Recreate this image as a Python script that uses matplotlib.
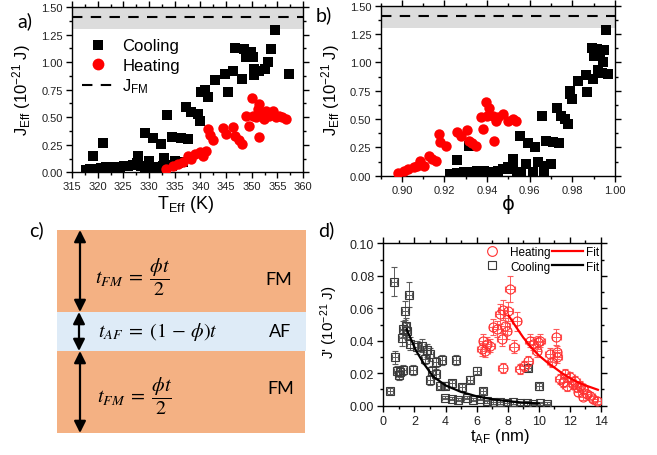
import numpy as np
import matplotlib
matplotlib.use('Agg')
import matplotlib.pyplot as plt
from matplotlib.patches import Rectangle, FancyArrowPatch
from matplotlib.lines import Line2D
from matplotlib.ticker import MultipleLocator, FormatStrFormatter

plt.rcParams['font.family'] = ['Liberation Sans', 'DejaVu Sans']
plt.rcParams['mathtext.fontset'] = 'custom'
plt.rcParams['mathtext.rm'] = 'Liberation Sans'
plt.rcParams['mathtext.it'] = 'Liberation Sans:italic'
plt.rcParams['mathtext.bf'] = 'Liberation Sans:bold'

# ---- panel a: J_Eff vs T_Eff ----
cool_T = [317.8, 318.6, 319.6, 320.6, 321.6, 322.6, 323.4, 324.4, 325.2, 326.0, 326.8,
          327.6, 328.4, 329.2, 331.2, 332.0, 332.8, 333.6, 334.4, 335.6, 336.6,
          319.0, 321.0, 327.9, 329.2, 330.8, 332.4, 330.0, 332.9, 333.5, 334.5, 336.3,
          337.5, 335.0,
          337.3, 338.2, 339.5, 339.9, 340.2, 341.0, 341.5, 342.8, 344.9, 345.4, 346.3,
          346.8, 348.1, 348.6, 349.2, 349.9, 348.9, 350.2, 350.5, 350.5, 351.5, 352.5,
          353.1, 353.8, 354.6, 357.2]
cool_J = [0.02, 0.03, 0.03, 0.04, 0.05, 0.05, 0.05, 0.05, 0.06, 0.06, 0.07,
          0.08, 0.06, 0.05, 0.03, 0.05, 0.06, 0.07, 0.06, 0.08, 0.09,
          0.15, 0.27, 0.15, 0.36, 0.31, 0.26, 0.10, 0.13, 0.52, 0.32, 0.31,
          0.30, 0.10,
          0.59, 0.545, 0.53, 0.47, 0.73, 0.75, 0.68, 0.84, 0.89, 0.73, 0.92,
          1.13, 0.85, 1.12, 1.075, 1.09, 1.045, 1.045, 0.94, 0.885, 0.92, 0.94,
          1.00, 1.12, 1.29, 0.89]
heat_T = [333.4, 334.7, 335.6, 336.6, 337.6, 338.2, 338.9, 339.9, 340.5, 341.2,
          341.5, 341.8, 342.4, 344.4, 345.0, 346.3, 346.7, 347.6, 348.1, 349.4,
          350.1, 348.9, 350.2, 351.2, 351.5, 351.8, 352.8, 353.4, 354.1, 354.7,
          355.4, 356.0, 356.7, 351.4, 352.4, 350.8]
heat_J = [0.03, 0.06, 0.075, 0.09, 0.15, 0.12, 0.166, 0.18, 0.15, 0.196,
          0.39, 0.34, 0.29, 0.40, 0.35, 0.41, 0.33, 0.29, 0.26, 0.42,
          0.67, 0.515, 0.515, 0.575, 0.62, 0.515, 0.56, 0.515, 0.56, 0.50,
          0.515, 0.50, 0.485, 0.32, 0.485, 0.50]

# ---- panel b: J_Eff vs phi ----
cool_phi = [0.9956, 0.9890, 0.9914, 0.9950, 0.9903, 0.9930, 0.9945, 0.9922, 0.9938,
            0.9898, 0.9969, 0.9862, 0.9867, 0.9827, 0.9788, 0.9799, 0.9790,
            0.9657, 0.9729, 0.9748, 0.9764, 0.9780, 0.9556, 0.9591, 0.9625, 0.9677,
            0.9709, 0.9736, 0.9260, 0.9315, 0.9520, 0.9583, 0.9638, 0.9669, 0.9701,
            0.9615, 0.9669,
            0.9228, 0.9260, 0.9291, 0.9323, 0.9355, 0.9386, 0.9417, 0.9449, 0.9473,
            0.9496, 0.9520, 0.9540, 0.9559]
cool_J_phi = [1.29, 1.13, 1.12, 1.11, 1.06, 1.09, 1.00, 0.935, 0.91,
              0.853, 0.90, 0.89, 0.74, 0.84, 0.72, 0.68, 0.75,
              0.524, 0.595, 0.53, 0.50, 0.456, 0.353, 0.289, 0.25, 0.31,
              0.295, 0.29, 0.139, 0.265, 0.147, 0.10, 0.118, 0.088, 0.103,
              0.03, 0.03,
              0.015, 0.02, 0.03, 0.03, 0.044, 0.044, 0.03, 0.044, 0.059,
              0.074, 0.059, 0.03, 0.015]
heat_phi = [0.8984, 0.9008, 0.9031, 0.9055, 0.9071, 0.9087, 0.9102, 0.9126, 0.9142,
            0.9158, 0.9181, 0.9173, 0.9205, 0.9260, 0.9276, 0.9304, 0.9315, 0.9347,
            0.9330, 0.9370, 0.9394, 0.9410, 0.9426, 0.9441, 0.9473, 0.9496, 0.9520,
            0.9536, 0.9381, 0.9433, 0.9449, 0.9400]
heat_J_phi = [0.024, 0.044, 0.059, 0.074, 0.088, 0.132, 0.088, 0.177, 0.147,
              0.132, 0.295, 0.368, 0.265, 0.383, 0.353, 0.406, 0.309, 0.265,
              0.29, 0.515, 0.653, 0.60, 0.53, 0.485, 0.545, 0.485, 0.50,
              0.485, 0.412, 0.309, 0.515, 0.53]

J_FM = 1.41
J_FM_band = (1.30, 1.50)

# ---- panel d: J' vs t_AF ----
cool_t = [0.69, 0.43, 1.67, 1.40, 1.29, 1.54, 1.18, 1.46, 0.75, 0.86, 1.07, 1.29, 0.99,
          1.93, 1.72, 2.15, 2.47, 2.79, 3.00, 2.68, 3.11, 3.00, 3.39, 3.39, 3.75, 3.64,
          3.97, 4.40, 4.67, 5.04, 5.57, 6.00, 6.43, 9.32, 10.01,
          3.97, 4.39, 4.82, 5.36, 5.79, 6.22, 6.65, 7.07, 7.50, 7.93, 8.36, 8.79,
          9.22, 9.65, 10.07, 10.50]
cool_Jp = [0.0764, 0.0092, 0.0684, 0.0585, 0.0470, 0.0458, 0.0417, 0.0493, 0.0298,
           0.0216, 0.0206, 0.0220, 0.0189, 0.0222, 0.0380, 0.0360, 0.0370, 0.0340,
           0.0318, 0.0288, 0.0216, 0.0160, 0.0267, 0.0195, 0.0283, 0.0123, 0.0123,
           0.0138, 0.0283, 0.0113, 0.0160, 0.0216, 0.0092, 0.0232, 0.0119,
           0.0049, 0.0043, 0.0037, 0.0049, 0.0037, 0.0043, 0.0027, 0.0023, 0.0023,
           0.0016, 0.0021, 0.0014, 0.0016, 0.0012, 0.0014, 0.0012]
cool_Jp_err = [0.009, 0.002, 0.0077, 0.006, 0.005, 0.005, 0.005, 0.005, 0.004,
               0.003, 0.003, 0.003, 0.003, 0.003, 0.004, 0.004, 0.004, 0.004,
               0.004, 0.003, 0.003, 0.003, 0.003, 0.003, 0.003, 0.002, 0.002,
               0.002, 0.003, 0.002, 0.002, 0.002, 0.002, 0.002, 0.002,
               0.001, 0.001, 0.001, 0.001, 0.001, 0.001, 0.001, 0.001, 0.001,
               0.001, 0.001, 0.001, 0.001, 0.001, 0.001, 0.001]
heat_t = [8.15, 7.68, 8.04, 7.50, 8.58, 7.07, 7.29, 7.83, 7.94, 7.61, 6.43, 6.65, 6.33,
          6.86, 6.54, 8.41, 7.68, 8.79, 9.05, 9.32, 9.43, 9.65, 9.97, 10.08, 9.86,
          10.72, 10.83, 11.15, 11.19, 11.13, 11.68, 11.36, 11.58, 12.00, 12.33, 11.79,
          12.22, 12.65, 12.86, 12.54, 13.08, 13.29, 13.50, 13.72, 12.86, 12.43]
heat_Jp = [0.0719, 0.0589, 0.0581, 0.0565, 0.0520, 0.0483, 0.0472, 0.0493, 0.0462,
           0.0410, 0.0400, 0.0380, 0.0349, 0.0370, 0.0339, 0.0363, 0.0232, 0.0226,
           0.0246, 0.0277, 0.0400, 0.0380, 0.0390, 0.0400, 0.0339, 0.0318, 0.0267,
           0.0329, 0.0302, 0.0421, 0.0195, 0.0164, 0.0144, 0.0175, 0.0154, 0.0123,
           0.0134, 0.0123, 0.0103, 0.0082, 0.0072, 0.0062, 0.0041, 0.0031, 0.0055,
           0.0113]
heat_Jp_err = [0.008, 0.006, 0.006, 0.006, 0.006, 0.005, 0.005, 0.005, 0.005,
               0.004, 0.004, 0.004, 0.004, 0.004, 0.004, 0.004, 0.003, 0.003,
               0.003, 0.003, 0.004, 0.004, 0.004, 0.004, 0.004, 0.004, 0.003,
               0.004, 0.004, 0.005, 0.003, 0.003, 0.003, 0.003, 0.003, 0.003,
               0.003, 0.003, 0.003, 0.002, 0.002, 0.002, 0.002, 0.002, 0.002,
               0.003]
cool_fit_t = [1.5, 2.1, 2.6, 3.2, 4.0, 5.0, 6.0, 7.0, 8.0, 9.0, 10.0]
cool_fit_Jp = [0.047, 0.034, 0.026, 0.018, 0.0125, 0.0085, 0.0058, 0.0040, 0.0028,
               0.0019, 0.0014]
heat_fit_t = [8.05, 8.5, 9.0, 9.5, 10.0, 10.5, 11.0, 11.5, 12.0, 12.5, 13.0, 13.8]
heat_fit_Jp = [0.0556, 0.049, 0.042, 0.036, 0.031, 0.027, 0.0235, 0.020, 0.017,
               0.0145, 0.0125, 0.0098]

W, H = 657, 456
fig = plt.figure(figsize=(W / 100, H / 100), dpi=100)


def px_axes(left, top, right, bottom, **kw):
    return fig.add_axes([left / W, 1 - bottom / H, (right - left) / W, (bottom - top) / H], **kw)


def px_text(x, y, s, **kw):
    return fig.text(x / W, 1 - y / H, s, **kw)


def origin_style(ax, xmaj, xmin, ymaj, ymin, fs, xfmt, yfmt):
    ax.xaxis.set_major_locator(MultipleLocator(xmaj))
    ax.xaxis.set_minor_locator(MultipleLocator(xmin))
    ax.yaxis.set_major_locator(MultipleLocator(ymaj))
    ax.yaxis.set_minor_locator(MultipleLocator(ymin))
    ax.xaxis.set_major_formatter(FormatStrFormatter(xfmt))
    ax.yaxis.set_major_formatter(FormatStrFormatter(yfmt))
    ax.tick_params(which='both', direction='out', top=True, right=True, width=1,
                   labelsize=fs, labelcolor='#222222', pad=2)
    ax.tick_params(which='major', length=4.5)
    ax.tick_params(which='minor', length=2.5)
    for s in ax.spines.values():
        s.set_linewidth(1)


# ---- panel c: layer sketch drawn in pixel space ----
ax_c = fig.add_axes([0, 0, 1, 1], zorder=-1)
ax_c.set_xlim(0, W)
ax_c.set_ylim(H, 0)
ax_c.axis('off')
orange, blue = '#F4B183', '#DEEBF7'
ax_c.add_patch(Rectangle((57, 231), 249, 82, color=orange, lw=0))
ax_c.add_patch(Rectangle((57, 313), 249, 39, color=blue, lw=0))
ax_c.add_patch(Rectangle((57, 352), 248, 82, color=orange, lw=0))
for x0, y0, y1 in [(80, 231, 313), (79, 313, 352), (80, 352, 434)]:
    ax_c.add_patch(FancyArrowPatch((x0, y0), (x0, y1),
                                   arrowstyle='<|-|>,head_length=0.7,head_width=0.35',
                                   mutation_scale=10, lw=1.6, color='k',
                                   shrinkA=0, shrinkB=0))
ax_c.text(95, 277, r'$t_{FM}\;=\;\dfrac{\phi t}{2}$', fontsize=14.5, math_fontfamily='stix',
          ha='left', va='center')
ax_c.text(98, 332, r'$t_{AF}\;=\;(1\,-\,\phi)t$', fontsize=14.5, math_fontfamily='stix',
          ha='left', va='center')
ax_c.text(97, 396, r'$t_{FM}\;=\;\dfrac{\phi t}{2}$', fontsize=14.5, math_fontfamily='stix',
          ha='left', va='center')
for x, y, s in [(279, 280, 'FM'), (280, 332, 'AF'), (281, 389, 'FM')]:
    ax_c.text(x, y, s, fontsize=13, family='Lato', ha='center', va='center')

# ---- panel a ----
ax_a = px_axes(72, 8, 303, 173.3)
ax_a.axhspan(*J_FM_band, color='#dcdcdc', lw=0, zorder=0)
ax_a.axhline(J_FM, color='k', lw=1.5, dashes=(5, 4), zorder=1)
ax_a.plot(cool_T, cool_J, 's', color='k', ms=6.5, mew=0, zorder=3)
ax_a.plot(heat_T, heat_J, 'o', color='#ff0000', ms=7.5, mew=0, zorder=3)
ax_a.set_xlim(315, 360)
ax_a.set_ylim(0, 1.5)
origin_style(ax_a, 5, 2.5, 0.25, 0.125, 8, '%d', '%.2f')
handles = [Line2D([], [], ls='none', marker='s', color='k', ms=7.5, mew=0),
           Line2D([], [], ls='none', marker='o', color='#ff0000', ms=8.5, mew=0),
           Line2D([], [], color='k', lw=1.5, dashes=(5, 4))]
ax_a.legend(handles, ['Cooling', 'Heating', r'J$_{\rm FM}$'], loc='upper left',
            bbox_to_anchor=(0.02, 0.84), frameon=False, fontsize=12,
            handlelength=2.0, handletextpad=0.45, labelspacing=0.25,
            borderpad=0.3, borderaxespad=0)

# ---- panel b ----
ax_b = px_axes(380.5, 6.7, 615, 176.7)
ax_b.axhspan(*J_FM_band, color='#dcdcdc', lw=0, zorder=0)
ax_b.axhline(J_FM, color='k', lw=1.5, dashes=(5, 4), zorder=1)
ax_b.plot(cool_phi, cool_J_phi, 's', color='k', ms=6.5, mew=0, zorder=3)
ax_b.plot(heat_phi, heat_J_phi, 'o', color='#ff0000', ms=7.5, mew=0, zorder=3)
ax_b.set_xlim(0.89, 1.0)
ax_b.set_ylim(0, 1.5)
origin_style(ax_b, 0.02, 0.01, 0.25, 0.125, 8, '%.2f', '%.2f')

# ---- panel d ----
ax_d = px_axes(383.3, 244.3, 601, 406.7)
ax_d.errorbar(cool_t, cool_Jp, yerr=cool_Jp_err, xerr=0.2, fmt='s', mfc='none',
              mec='#3a3a3a', ecolor='#5a5a5a', ms=5.5, mew=0.8, elinewidth=0.7,
              capsize=2.5, capthick=0.7, zorder=3)
ax_d.errorbar(heat_t, heat_Jp, yerr=heat_Jp_err, xerr=0.3, fmt='o', mfc='none',
              mec='#ff3030', ecolor='#ff5a5a', ms=6.5, mew=0.8, elinewidth=0.7,
              capsize=2.5, capthick=0.7, zorder=3)
ax_d.plot(cool_fit_t, cool_fit_Jp, color='k', lw=1.6, zorder=4)
ax_d.plot(heat_fit_t, heat_fit_Jp, color='#ff0000', lw=1.6, zorder=4)
ax_d.set_xlim(0, 14)
ax_d.set_ylim(0, 0.1)
origin_style(ax_d, 2, 1, 0.02, 0.01, 9, '%d', '%.2f')
hd = [Line2D([], [], ls='none', marker='o', mfc='none', mec='#ff3030', ms=7, mew=0.8),
      Line2D([], [], ls='none', marker='s', mfc='none', mec='#3a3a3a', ms=6, mew=0.8),
      Line2D([], [], color='#ff0000', lw=1.6),
      Line2D([], [], color='k', lw=1.6)]
ax_d.legend(hd, ['Heating', 'Cooling', 'Fit', 'Fit'], ncol=2, loc='upper right',
            bbox_to_anchor=(1.0, 1.0), frameon=False, fontsize=8.5,
            handlelength=2.6, handletextpad=0.2, columnspacing=0.15,
            labelspacing=0.25, borderpad=0.1, borderaxespad=0.1)

# ---- axis labels and panel letters ----
px_text(22, 90, r'J$_{\rm Eff}$ (10$^{\rm {-}21}$ J)', fontsize=12, rotation=90,
        ha='center', va='center')
px_text(185, 205, r'T$_{\rm Eff}$ (K)', fontsize=13, ha='center', va='center')
px_text(331, 90, r'J$_{\rm Eff}$ (10$^{\rm {-}21}$ J)', fontsize=12, rotation=90,
        ha='center', va='center')
px_text(508, 205, '\u03d5', fontsize=14, ha='center', va='center',
        family=['DejaVu Sans'])
px_text(329, 322, r"J' (10$^{\rm {-}21}$ J)", fontsize=11, rotation=90,
        ha='center', va='center')
px_text(500, 437, r't$_{\rm AF}$ (nm)', fontsize=12, ha='center', va='center')

for x, y, s in [(25, 21, 'a)'), (324, 15, 'b)'), (36, 230, 'c)'), (326, 230, 'd)')]:
    px_text(x, y, s, fontsize=14, family='Lato', ha='center', va='center')

fig.savefig('out.png', dpi=100)
